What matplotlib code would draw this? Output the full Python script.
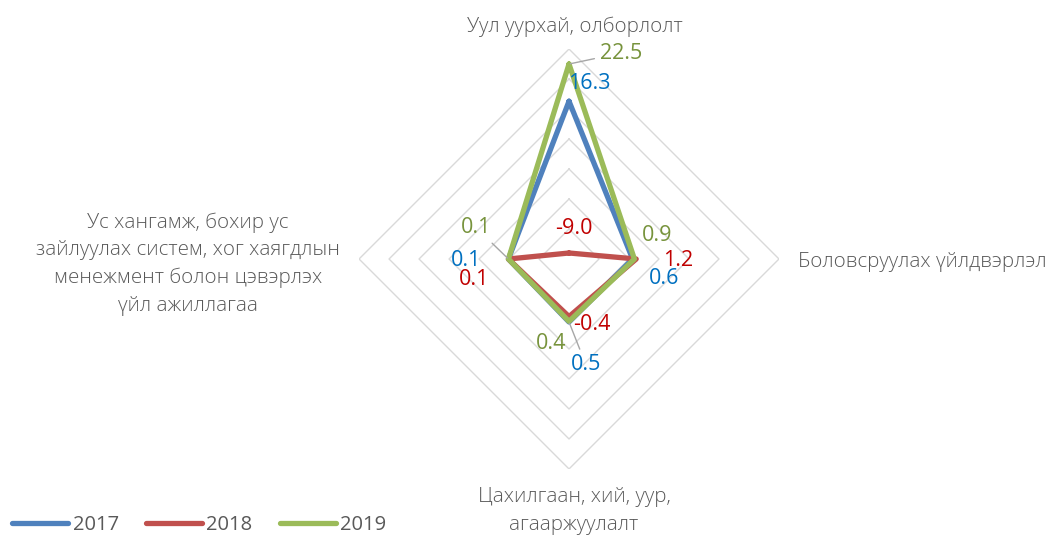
import numpy as np
import matplotlib.pyplot as plt

plt.rcParams['font.family'] = ['Open Sans', 'DejaVu Sans']

categories = ['Уул уурхай, олборлолт', 'Боловсруулах үйлдвэрлэл',
              'Цахилгаан, хий, уур,\nагааржуулалт',
              'Ус хангамж, бохир ус\nзайлуулах систем, хог хаягдлын\nменежмент болон цэвэрлэх\nүйл ажиллагаа']
years = ['2017', '2018', '2019']
v2017 = [16.3, 0.6, 0.5, 0.1]
v2018 = [-9.0, 1.2, -0.4, 0.1]
v2019 = [22.5, 0.9, 0.4, 0.1]
ring_vals = [-5, 0, 5, 10, 15, 20, 25]

line_colors = ['#4F81BD', '#C0504D', '#9BBB59']
label_colors = ['#0070C0', '#C00000', '#77933C']

# label offsets in pixels (dx, dy) per series per category
label_off = [
    [(20, 18), (31, -20), (17, -43), (-42, -2)],
    [(5, 24), (42, -2), (23, -8), (-34, -21)],
    [(52, 11), (23, 23), (-18, -22), (-32, 31)],
]
leaders = {(2, 0), (0, 2), (2, 3)}

fig = plt.figure(figsize=(10.61, 5.36), dpi=100)
ax = fig.add_axes([0.3384, 0.125, 0.3958, 0.7836], projection='polar')
ax.set_theta_offset(np.pi / 2)
ax.set_theta_direction(-1)
ax.set_rlim(-10, 25)
ax.grid(False)
ax.spines['polar'].set_visible(False)
ax.set_xticks([])
ax.set_yticks([])

theta = np.linspace(0, 2 * np.pi, len(categories), endpoint=False)
theta_c = np.append(theta, theta[0])

for r in ring_vals:
    ax.plot(theta_c, [r] * len(theta_c), color='#D9D9D9', lw=1, zorder=1)

series = [v2017, v2018, v2019]
for i, vals in enumerate(series):
    vc = vals + vals[:1]
    ax.plot(theta_c, vc, color=line_colors[i], lw=3.8, label=years[i],
            solid_capstyle='round', zorder=3 + i)

for i, vals in enumerate(series):
    for j, v in enumerate(vals):
        dx, dy = label_off[i][j]
        ap = None
        if (i, j) in leaders:
            ap = dict(arrowstyle='-', color='#A6A6A6', lw=1, shrinkA=2, shrinkB=1)
        ax.annotate(f'{v:.1f}', xy=(theta[j], v), xytext=(dx, dy),
                    textcoords='offset pixels', ha='center', va='center',
                    fontsize=15.5, color=label_colors[i], arrowprops=ap,
                    annotation_clip=False, zorder=10)

cat_off = [(6, 22, 'center'), (19, -3, 'left'), (5, -42, 'center'), (-171, -5, 'center')]
for j, name in enumerate(categories):
    dx, dy, ha = cat_off[j]
    ax.annotate(name, xy=(theta[j], 25), xytext=(dx, dy), textcoords='offset pixels',
                ha=ha, va='center', fontsize=14.8, color='#595959', fontweight='light',
                linespacing=1.5, annotation_clip=False)

leg = fig.legend(loc='lower left', bbox_to_anchor=(0.0, -0.02), ncol=3, frameon=False,
                 fontsize=14.5, handlelength=2.8, handletextpad=0.2, columnspacing=1.35,
                 borderaxespad=0.2)
for t in leg.get_texts():
    t.set_color('#595959')

fig.savefig('out.png', dpi=100)
